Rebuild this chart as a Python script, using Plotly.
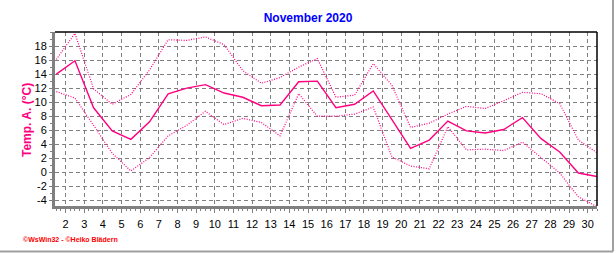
import plotly.graph_objects as go

# ---- data ----
days = list(range(1, 31))
t_max = [16.1, 19.8, 11.9, 9.7, 11.1, 14.6, 18.9, 18.8, 19.3, 18.2,
         14.5, 12.7, 13.5, 15.0, 16.2, 10.7, 11.0, 15.5, 12.4, 6.4,
         7.0, 8.3, 9.4, 9.1, 10.2, 11.4, 11.2, 9.8, 4.6, 2.8]
t_mean = [14.0, 15.9, 9.2, 5.9, 4.7, 7.2, 11.2, 12.0, 12.5, 11.3,
          10.7, 9.5, 9.6, 12.9, 13.0, 9.2, 9.7, 11.6, 7.5, 3.4,
          4.6, 7.3, 5.9, 5.6, 6.1, 7.8, 4.8, 2.9, -0.1, -0.6]
t_min = [11.5, 10.6, 6.7, 2.7, 0.2, 2.1, 5.2, 6.7, 8.7, 6.8,
         7.7, 7.1, 5.2, 11.2, 8.0, 8.0, 8.3, 9.3, 2.2, 0.9,
         0.5, 6.5, 3.2, 3.3, 3.1, 4.3, 2.1, -0.1, -3.5, -4.9]
x_tick_vals = list(range(2, 31))
x_tick_text = [str(v) for v in x_tick_vals]
y_tick_vals = list(range(-4, 20, 2))
y_tick_text = [str(v) for v in y_tick_vals]

title_text = "November 2020"
y_title = "Temp. A. (°C)"
footer = "©WsWin32 - ©Heiko Blädern"

PINK = "#FF0080"
GRID = "#808080"

# day values are plotted at the middle of each day
xs = [d + 0.5 for d in days]

fig = go.Figure()
fig.add_trace(go.Scatter(x=xs, y=t_max, mode="lines",
                         line=dict(color=PINK, width=1.2, dash="1px,1.5px"),
                         hoverinfo="skip"))
fig.add_trace(go.Scatter(x=xs, y=t_min, mode="lines",
                         line=dict(color=PINK, width=1.2, dash="1px,1.5px"),
                         hoverinfo="skip"))
fig.add_trace(go.Scatter(x=xs, y=t_mean, mode="lines",
                         line=dict(color=PINK, width=1.4),
                         hoverinfo="skip"))

L, W, T, H = 55, 542, 32, 174

def px_x(p):
    return (p - L) / W

def px_y(p):
    return 1 - (p - T) / H

fig.update_layout(
    width=616, height=253,
    margin=dict(l=L, r=616 - L - W, t=T, b=253 - T - H),
    paper_bgcolor="white", plot_bgcolor="white",
    showlegend=False,
    font=dict(family="Arial, Liberation Sans, sans-serif", color="black", size=11),
    xaxis=dict(range=[1.43, 30.5], tickmode="array", tickvals=x_tick_vals,
               ticktext=x_tick_text, showgrid=True, gridcolor=GRID, gridwidth=1,
               griddash="4px,3px", showline=True, linecolor=GRID, linewidth=3,
               ticks="outside", ticklen=4, tickcolor=GRID, zeroline=False,
               tickfont=dict(size=11, color="black"), ticklabelstandoff=2,
               minor=dict(tick0=1.5, dtick=0.25, ticks="outside", ticklen=2,
                          tickcolor=GRID, showgrid=False)),
    yaxis=dict(range=[-4.8, 20], tickmode="array", tickvals=y_tick_vals,
               ticktext=y_tick_text, showgrid=True, gridcolor=GRID, gridwidth=1,
               griddash="4px,3px", showline=True, linecolor=GRID, linewidth=3,
               ticks="outside", ticklen=3, tickcolor=GRID, zeroline=False,
               tickfont=dict(size=11, color="black"),
               minor=dict(tick0=0, dtick=1, ticks="outside", ticklen=2,
                          tickcolor=GRID, showgrid=False)),
    title=dict(text="<b>" + title_text + "</b>", x=0.5, xanchor="center",
               y=1 - 18 / 253, yanchor="middle",
               font=dict(size=12, color="#0000FF",
                         family="Arial, Liberation Sans, sans-serif")),
)

fig.add_annotation(text="<b>" + y_title + "</b>", textangle=-90,
                   xref="paper", yref="paper", x=px_x(27), y=px_y(120),
                   xanchor="center", yanchor="middle", showarrow=False,
                   font=dict(size=12, color=PINK))
fig.add_annotation(text="<b>" + footer + "</b>",
                   xref="paper", yref="paper", x=px_x(21), y=px_y(239.5),
                   xanchor="left", yanchor="middle", showarrow=False,
                   font=dict(size=7, color="#FF0000"))

# black top and right frame
fig.add_shape(type="line", xref="paper", yref="paper", x0=0, x1=1, y0=1, y1=1,
              line=dict(color="black", width=1.5))
fig.add_shape(type="line", xref="paper", yref="paper", x0=1, x1=1, y0=0, y1=1,
              line=dict(color="black", width=1.5))
# window border (gray) at right and bottom
fig.add_shape(type="line", xref="paper", yref="paper",
              x0=px_x(613), x1=px_x(613), y0=px_y(0), y1=px_y(251.5),
              line=dict(color="#A0A0A0", width=2))
fig.add_shape(type="line", xref="paper", yref="paper",
              x0=px_x(0), x1=px_x(613), y0=px_y(251.5), y1=px_y(251.5),
              line=dict(color="#A0A0A0", width=2))

fig.write_html("out.html")
